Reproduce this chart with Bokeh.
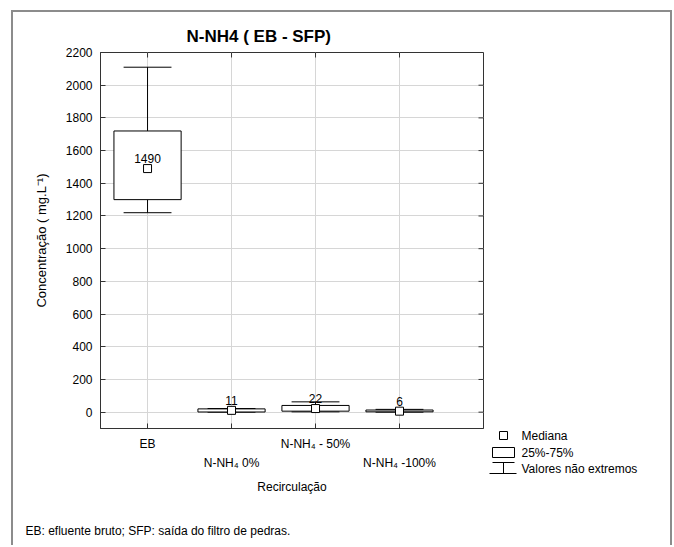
from bokeh.plotting import figure
from bokeh.layouts import row, column
from bokeh.models import FixedTicker, Range1d, ColumnDataSource
from bokeh.embed import file_html
from bokeh.resources import INLINE
from bokeh.core.properties import value

# ---- data ----
categories = ["EB", "N-NH₄ 0%", "N-NH₄ - 50%", "N-NH₄ -100%"]
medians = [1490, 11, 22, 6]
q1 = [1300, 1, 6, 2]
q3 = [1720, 20, 41, 13]
whisker_low = [1220, 0, 2, 0]
whisker_high = [2110, 22, 63, 17]
y_ticks = list(range(0, 2201, 200))

legend_labels = ["Mediana", "25%-75%", "Valores não extremos"]
title_text = "N-NH4 ( EB - SFP)"
x_title = "Recirculação"
y_title = "Concentração ( mg.L⁻¹)"
footnote = "EB: efluente bruto; SFP: saída do filtro de pedras."

FONT = "Liberation Sans"
BORDER = "#8c8c8c"

# ---- main plot geometry ----
WP, HP = 475, 488
LEFT, RIGHT, TOP, BOTTOM = 87, 5, 40, 72
FW = WP - LEFT - RIGHT
FH = HP - TOP - BOTTOM
X0, X1 = 0.44, 5.0
Y0, Y1 = -100, 2200
TICK_X = 5 * (X1 - X0) / FW
TICK_Y = 5 * (Y1 - Y0) / FH

xs = [i + 1 for i in range(len(categories))]
BOX_W = 0.8
CAP_W = 0.57
src = ColumnDataSource(dict(
    x=xs, med=medians, q1=q1, q3=q3, lo=whisker_low, hi=whisker_high,
    cl=[x - CAP_W / 2 for x in xs], cr=[x + CAP_W / 2 for x in xs],
    lab=[str(m) for m in medians],
))

p = figure(width=WP, height=HP, x_range=Range1d(X0, X1), y_range=Range1d(Y0, Y1),
           output_backend="svg", toolbar_location=None, title=title_text,
           min_border_left=LEFT, min_border_right=RIGHT,
           min_border_top=TOP, min_border_bottom=BOTTOM)
p.frame_align = False
p.outline_line_color = "#333333"
p.outline_line_width = 1
p.background_fill_color = "white"
p.border_fill_color = "white"

p.title.text_font = FONT
p.title.text_font_size = "17px"
p.title.text_font_style = "bold"
p.title.text_color = "black"
p.title.align = "left"
p.title.offset = 86
p.title.standoff = 13

# grids
p.xgrid.ticker = FixedTicker(ticks=xs)
p.ygrid.ticker = FixedTicker(ticks=y_ticks)
for g in (p.xgrid, p.ygrid):
    g.grid_line_color = "#d6d6d6"
    g.grid_line_width = 1

# axes
xa = p.xaxis[0]
xa.ticker = FixedTicker(ticks=xs)
xa.major_label_overrides = {x: ("\n" if i % 2 else "") + c
                            for i, (x, c) in enumerate(zip(xs, categories))}
xa.axis_label = x_title
ya = p.yaxis[0]
ya.ticker = FixedTicker(ticks=y_ticks)
ya.axis_label = y_title
for ax in (xa, ya):
    ax.major_tick_in = 5
    ax.major_tick_out = 0
    ax.minor_tick_line_color = None
    ax.axis_line_color = "#333333"
    ax.major_tick_line_color = "#333333"
    ax.major_label_text_font = FONT
    ax.major_label_text_font_size = "12px"
    ax.major_label_text_color = "black"
    ax.axis_label_text_font = FONT
    ax.axis_label_text_font_size = "12px"
    ax.axis_label_text_font_style = "normal"
    ax.axis_label_text_color = "black"
ya.axis_label_text_font_size = "13px"
xa.major_label_standoff = 8
xa.major_label_text_line_height = 1.4
xa.axis_label_standoff = 7
ya.major_label_standoff = 8
ya.axis_label_standoff = 14

# mirrored inner ticks on right and top
p.segment(x0=[X1 - TICK_X] * len(y_ticks), y0=y_ticks, x1=[X1] * len(y_ticks), y1=y_ticks,
          line_color="#333333", line_width=1)
p.segment(x0=xs, y0=[Y1 - TICK_Y] * len(xs), x1=xs, y1=[Y1] * len(xs),
          line_color="#333333", line_width=1)

# whiskers
p.segment(x0="x", y0="q3", x1="x", y1="hi", source=src, line_color="black", line_width=1)
p.segment(x0="x", y0="lo", x1="x", y1="q1", source=src, line_color="black", line_width=1)
p.segment(x0="cl", y0="hi", x1="cr", y1="hi", source=src, line_color="black", line_width=1)
p.segment(x0="cl", y0="lo", x1="cr", y1="lo", source=src, line_color="black", line_width=1)
# boxes
p.vbar(x="x", width=BOX_W, bottom="q1", top="q3", source=src,
       fill_color="white", line_color="black", line_width=1)
# medians
p.scatter(x="x", y="med", source=src, marker="square", size=8,
          fill_color="white", line_color="black", line_width=1)
p.text(x="x", y="med", text="lab", source=src, y_offset=-10,
       text_align="center", text_baseline="middle",
       text_font=value(FONT), text_font_size="12px", text_color="black")

# ---- legend panel (pixel coordinates, y downwards) ----
WL = 182
lg = figure(width=WL, height=HP, x_range=Range1d(0, WL), y_range=Range1d(HP, 0),
            output_backend="svg", toolbar_location=None, title=None,
            x_axis_location=None, y_axis_location=None, min_border=0)
lg.frame_align = False
lg.grid.visible = False
lg.outline_line_color = None
lg.background_fill_color = "white"
lg.border_fill_color = "white"
lg.scatter(x=[15], y=[423], marker="square", size=8, fill_color="white",
           line_color="black", line_width=1)
lg.quad(left=[4], right=[26], top=[435], bottom=[445], fill_color="white",
        line_color="black", line_width=1)
lg.segment(x0=[4, 15, 1], y0=[450, 450, 461], x1=[26, 15, 28], y1=[450, 461, 461],
           line_color="black", line_width=1)
lg.text(x=[33, 33, 33], y=[423, 440, 456], text=legend_labels,
        text_baseline="middle", text_font=value(FONT), text_font_size="12px",
        text_color="black")

# ---- footnote panel ----
WF, HF = WP + WL, 45
ft = figure(width=WF, height=HF, x_range=Range1d(0, WF), y_range=Range1d(HF, 0),
            output_backend="svg", toolbar_location=None, title=None,
            x_axis_location=None, y_axis_location=None, min_border=0)
ft.frame_align = False
ft.grid.visible = False
ft.outline_line_color = None
ft.background_fill_color = "white"
ft.border_fill_color = "white"
ft.text(x=[12], y=[30], text=[footnote], text_baseline="middle",
        text_font=value(FONT), text_font_size="12px", text_color="black")

layout = column(row(p, lg), ft,
                styles={"border": f"2px solid {BORDER}", "border-bottom": "none",
                        "margin-left": "11px", "margin-top": "10px"})

open("out.html", "w").write(file_html(layout, INLINE))
